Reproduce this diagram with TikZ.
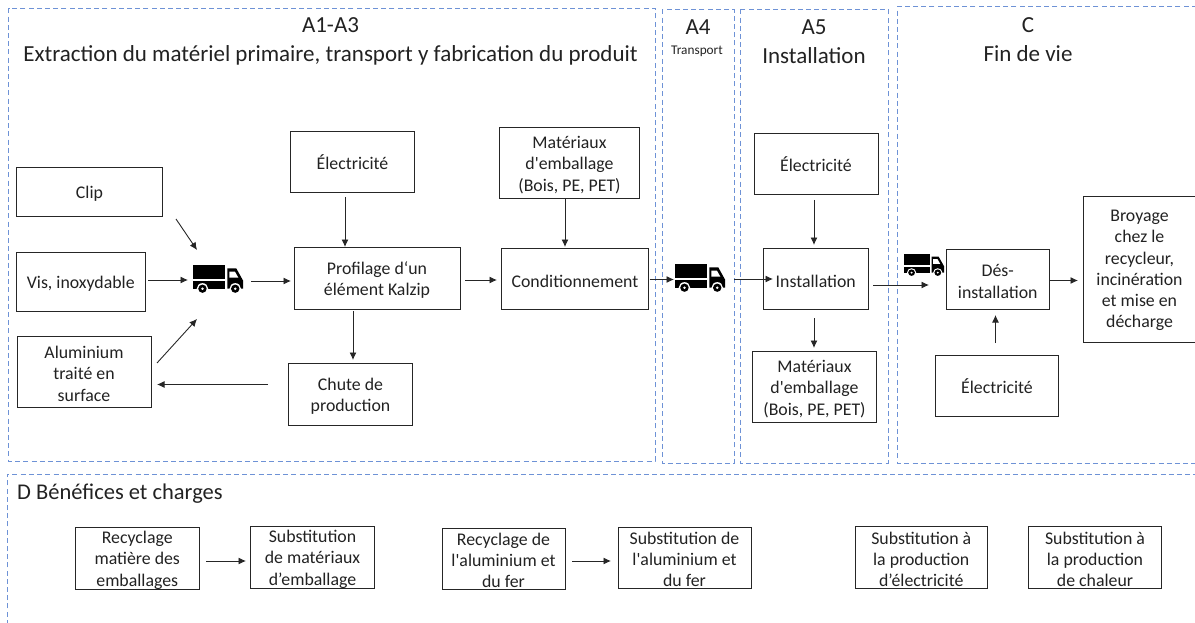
\documentclass[tikz,border=0pt]{standalone}
\usepackage{fontspec}
\setmainfont{Carlito}
\newfontfamily\plainfam{Carlito}
\usetikzlibrary{arrows.meta}
\definecolor{framecol}{HTML}{6E92D6}
\definecolor{inkcol}{HTML}{222222}
\tikzset{
  procbox/.style={draw=black!85,line width=0.9pt,fill=white,align=center,inner sep=0pt,outer sep=0pt,text=inkcol,font=\plainfam\fontsize{17.8}{21.3}\selectfont},
  frame/.style={draw=framecol,line width=0.9pt,dash pattern=on 5pt off 3.2pt},
  arr/.style={draw=black!85,line width=0.9pt,-{Latex[length=7.5pt,width=7pt]}},
  titletext/.style={align=center,text=inkcol,inner sep=0pt,font=\plainfam\fontsize{23}{29}\selectfont},
  smalltext/.style={align=center,text=inkcol,inner sep=0pt,font=\plainfam\fontsize{13.3}{15}\selectfont},
  headtext/.style={anchor=west,text=inkcol,inner sep=0pt,font=\plainfam\fontsize{22.5}{26}\selectfont},
  truckbox/.style={inner sep=0pt,outer sep=0pt}
}
\newcommand{\bx}[6]{\node[procbox,minimum width={#4-#2},minimum height={#5-#3}] (#1) at ({(#2+#4)/2},{(#3+#5)/2}) {\rule{0pt}{16.5pt}#6};}
\newcommand{\truckat}[5]{%
  \node[truckbox,minimum width=#4,minimum height=#5] (#1) at ({#2+#4/2},{#3+#5/2}) {};
  \begin{scope}[shift={(#2,#3)},xscale=#4/148,yscale=#5/85,shift={(-100,-75)}]
    \fill[black] (100,75) rectangle (195,118);
    \fill[black] (100,125) rectangle (195,147);
    \fill[black] (202,85) -- (228,85) -- (248,122) -- (248,147) -- (202,147) -- cycle;
    \fill[white] (208,95) -- (224,95) -- (234,113) -- (208,113) -- cycle;
    \fill[white] (128,147) circle (17pt);
    \fill[white] (225,147) circle (17pt);
    \fill[black] (128,147) circle (12.5pt);
    \fill[black] (225,147) circle (12.5pt);
    \fill[white] (128,147) circle (4pt);
    \fill[white] (225,147) circle (4pt);
  \end{scope}}
\begin{document}
\begin{tikzpicture}[x=1pt,y=-1pt]
\useasboundingbox (0,0) rectangle (1195,623);
\clip (0,0) rectangle (1195,623);
% frames
\draw[frame] (8.5,8.5) rectangle (655,461);
\draw[frame] (662,9.5) rectangle (734,463);
\draw[frame] (740.5,9.5) rectangle (888,463);
\draw[frame] (1205,6.5) -- (897.5,6.5) -- (897.5,463) -- (1205,463);
\draw[frame] (7,633) -- (7,474.5) -- (1205,474.5);
% headings
\node[titletext] (t1) at (330.5,41.5) {A1-A3\\Extraction du matériel primaire, transport y fabrication du produit};
\node[titletext] (t2) at (698,27) {A4};
\node[smalltext] (t3) at (697,51) {Transport};
\node[titletext] (t4) at (814,42) {A5\\Installation};
\node[titletext] (t5) at (1028,40) {C\\Fin de vie};
\node[headtext] (t6) at (17,494) {D Bénéfices et charges};
% boxes
\bx{clip}{16.5}{167}{162.5}{216}{Clip}
\bx{vis}{16.5}{252.5}{145}{311.5}{Vis, inoxydable}
\bx{alu}{17}{336}{151}{407.5}{Aluminium\\traité en\\surface}
\bx{elecA}{290.5}{131.5}{414.5}{192}{Électricité}
\bx{prof}{294}{247.5}{460}{309}{Profilage d‘un\\élément Kalzip}
\bx{chute}{288.5}{363}{412.5}{425}{Chute de\\production}
\bx{matA}{499.5}{127}{639.5}{198.5}{Matériaux\\d'emballage\\(Bois, PE, PET)}
\bx{cond}{501.5}{248.5}{648.5}{309.5}{Conditionnement}
\bx{elecB}{754}{133}{878}{194}{Électricité}
\bx{inst}{763}{248.5}{868.5}{309.5}{Installation}
\bx{matB}{752.5}{351.5}{876.5}{422}{Matériaux\\d'emballage\\(Bois, PE, PET)}
\bx{des}{946}{249}{1049.5}{309.5}{Dés-\\installation}
\bx{elecC}{935.5}{355}{1058.5}{416.5}{Électricité}
\bx{broy}{1083.5}{196.5}{1215}{342.5}{}
\node[procbox,draw=none,fill=none] (broytxt) at (1139.5,270.5) {Broyage\\chez le\\recycleur,\\incinération\\et mise en\\décharge};
\bx{recA}{75.5}{528}{199}{588.5}{Recyclage\\matière des\\emballages}
\bx{subA}{250.5}{526.5}{374.5}{588}{Substitution\\de matériaux\\d’emballage}
\bx{recB}{442}{528}{565}{589}{Recyclage de\\l'aluminium et\\du fer}
\bx{subB}{618}{527}{751}{588}{Substitution de\\l'aluminium et\\du fer}
\bx{subC}{855}{526.5}{987.5}{588}{Substitution à\\la production\\d’électricité}
\bx{subD}{1028.5}{526.5}{1161.5}{588}{Substitution à\\la production\\de chaleur}
% trucks
\truckat{trA}{193}{265}{50}{28}
\truckat{trB}{675}{264}{50}{28}
\truckat{trC}{904}{254}{40}{22}
% connectors
\draw[arr] ([shift={(13.5,3)}]clip.south east) -- ([shift={(4,-15)}]trA.north west);
\draw[arr] ([shift={(3,-2)}]vis.east) -- ([shift={(-5,1)}]trA.west);
\draw[arr] ([shift={(6,-8.75)}]alu.east) -- ([shift={(4,40)}]trA.west);
\draw[arr] ([shift={(8,2)}]trA.east) -- ([shift={(-3,2.75)}]prof.west);
\draw[arr] ([shift={(-20.5,-9.5)}]chute.west) -- ([shift={(6,12.75)}]alu.east);
\draw[arr] ([shift={(-7.5,5)}]elecA.south) -- ([shift={(-32,-0.5)}]prof.north);
\draw[arr] ([shift={(-24,2)}]prof.south) -- ([shift={(2.5,-3)}]chute.north);
\draw[arr] ([shift={(5,1.75)}]prof.east) -- ([shift={(-4.5,1)}]cond.west);
\draw[arr] ([shift={(-4.5,0)}]matA.south) -- ([shift={(-10,-1.5)}]cond.north);
\draw[arr] ([shift={(1,0.5)}]cond.east) -- ([shift={(-1,1.5)}]trB.west);
\draw[arr] ([shift={(9,1)}]trB.east) -- ([shift={(10,0)}]inst.west);
\draw[arr] ([shift={(-2,6)}]elecB.south) -- ([shift={(-1.75,-3.5)}]inst.north);
\draw[arr] ([shift={(-1.75,8.5)}]inst.south) -- ([shift={(-0.5,-3.5)}]matB.north);
\draw[arr] ([shift={(4.5,6)}]inst.east) -- ([shift={(-17,5.75)}]des.west);
\draw[arr] ([shift={(0.5,1.25)}]des.east) -- ([shift={(-5.5,11)}]broy.west);
\draw[arr] ([shift={(-1.5,-12)}]elecC.north) -- ([shift={(-2.25,5.5)}]des.south);
\draw[arr] ([shift={(7,2.75)}]recA.east) -- ([shift={(-4.5,3.75)}]subA.west);
\draw[arr] ([shift={(7,2.5)}]recB.east) -- ([shift={(-7,3.5)}]subB.west);
\end{tikzpicture}
\end{document}
